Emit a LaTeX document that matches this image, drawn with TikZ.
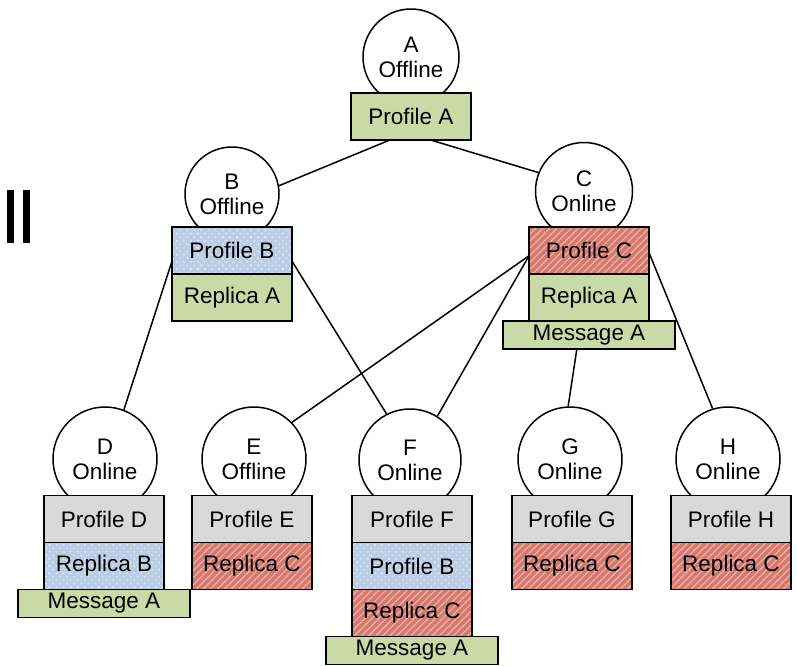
\documentclass[tikz,border=0pt]{standalone}
\usepackage{fontspec}
\setmainfont{Liberation Sans}
\usetikzlibrary{positioning,patterns.meta}
\definecolor{itemgreen}{RGB}{202,218,166}
\definecolor{itemgrey}{RGB}{217,217,217}
\definecolor{itemblue}{RGB}{187,205,228}
\definecolor{itemred}{RGB}{214,120,108}
\tikzset{
    peer/.style={draw, circle, fill=white, line width=1.5pt,
                 minimum size=#1, inner sep=0pt, align=center},
    item/.style={draw, fill=#1, line width=1.8pt, outer sep=0pt,
                 minimum width=120pt, minimum height=47pt, inner sep=0pt},
    msg/.style={item=itemgreen, minimum width=172pt, minimum height=28pt},
    hatched/.style={item=itemred,
                    postaction={pattern={Lines[angle=45,distance=5pt,line width=1.2pt]},
                                pattern color=itemred!55!white},
                    postaction={draw, line width=1.8pt}},
    checked/.style={item=itemblue,
                    postaction={pattern={Dots[angle=45,distance=5pt,radius=1.1pt]},
                                pattern color=itemblue!45!white},
                    postaction={draw, line width=1.8pt}},
    link/.style={line width=1.5pt},
}
\begin{document}
\begin{tikzpicture}[x=1pt, y=-1pt,
    every node/.append style={font=\fontsize{22.5}{25}\selectfont}]
    \useasboundingbox (0,0) rectangle (797,665);

    % pause mark
    \fill (7,190) rectangle (14,243);
    \fill (23,190) rectangle (30,243);

    % upper peers
    \node[peer=96pt] (A) at (411,57) {A\\Offline};
    \node[item=itemgreen] (Aprof) at (411,116.5) {Profile A};

    \node[peer=94pt] (B) at (232,194) {B\\Offline};
    \node[checked] (Bprof) at (232,250.5) {Profile B};
    \node[item=itemgreen, below=0pt of Bprof] (Brep) {Replica A};

    \node[peer=97pt] (C) at (584,191) {C\\Online};
    \node[hatched] (Cprof) at (589,250.5) {Profile C};
    \node[item=itemgreen, below=0pt of Cprof] (Crep) {Replica A};
    \node[msg, below=0pt of Crep] (Cmsg) {Message A};

    % lower peers
    \node[peer=104pt] (D) at (105,459) {D\\Online};
    \node[item=itemgrey] (Dprof) at (104,519) {Profile D};
    \node[checked, below=0pt of Dprof] (Drep) {Replica B};
    \node[msg, below=0pt of Drep] (Dmsg) {Message A};

    \node[peer=104pt] (E) at (254,459) {E\\Offline};
    \node[item=itemgrey] (Eprof) at (252,519) {Profile E};
    \node[hatched, below=0pt of Eprof] (Erep) {Replica C};

    \node[peer=102pt] (F) at (410,460) {F\\Online};
    \node[item=itemgrey] (Fprof) at (412,519) {Profile F};
    \node[checked, below=0pt of Fprof] (Fcopy) {Profile B};
    \node[hatched, below=0pt of Fcopy] (Frep) {Replica C};
    \node[msg, below=0pt of Frep] (Fmsg) {Message A};

    \node[peer=104pt] (G) at (570,459) {G\\Online};
    \node[item=itemgrey] (Gprof) at (572,519) {Profile G};
    \node[hatched, below=0pt of Gprof] (Grep) {Replica C};

    \node[peer=104pt] (H) at (728,459) {H\\Online};
    \node[item=itemgrey] (Hprof) at (731,519) {Profile H};
    \node[hatched, below=0pt of Hprof] (Hrep) {Replica C};

    % links
    \draw[link] (Aprof.228) -- (B.10);
    \draw[link] (Aprof.310) -- (C.158);
    \draw[link] (Bprof.190) -- (D.69);
    \draw[link] (Bprof.350) -- (F.117);
    \draw[link] (Cprof.185) -- (E.44);
    \draw[link] (Cprof.185) -- (F.58);
    \draw[link] (Cmsg.229) -- (G.92);
    \draw[link] (Cprof.358) -- (H.107);
\end{tikzpicture}
\end{document}
